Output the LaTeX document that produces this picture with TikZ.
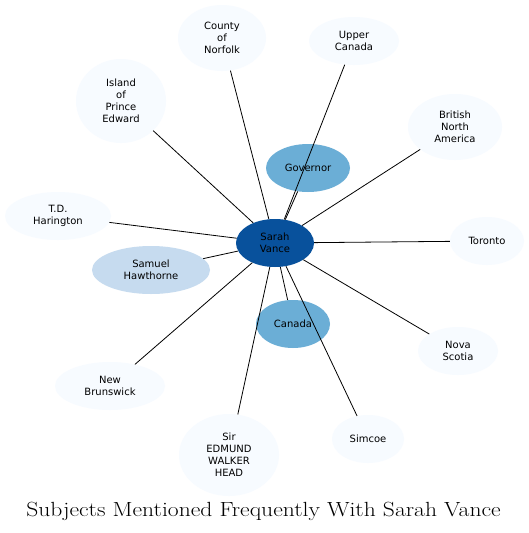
\documentclass[tikz,border=0pt]{standalone}
\usepackage{fontspec}
\newfontfamily\nodefont{DejaVu Sans}
\usetikzlibrary{shapes.geometric}
\definecolor{cdark}{HTML}{08519C}
\definecolor{cmid}{HTML}{6BAED6}
\definecolor{clight}{HTML}{C6DBEF}
\definecolor{cpale}{HTML}{F7FBFF}
\tikzset{
  ent/.style={ellipse, inner sep=0pt, align=center, font=\nodefont\fontsize{10}{12}\selectfont, draw=none},
  pale/.style={ent, fill=cpale},
  link/.style={draw=black, line width=0.8pt},
}
\begin{document}
\begin{tikzpicture}[x=1pt,y=-1pt]
\useasboundingbox[fill=white] (0,0) rectangle (528,533);
\node[ent, fill=cdark, minimum width=78pt, minimum height=48pt] (sv) at (275,243) {Sarah\\Vance};
\node[ent, fill=cmid, minimum width=84pt, minimum height=48pt] (gov) at (308,168) {Governor};
\node[ent, fill=cmid, minimum width=74pt, minimum height=48pt] (can) at (293,324) {Canada};
\node[ent, fill=clight, minimum width=118pt, minimum height=48pt] (sh) at (151,270) {Samuel\\Hawthorne};
\node[pale, minimum width=88pt, minimum height=66pt] (cn) at (222,38) {County\\of\\Norfolk};
\node[pale, minimum width=90pt, minimum height=48pt] (uc) at (354,41) {Upper\\Canada};
\node[pale, minimum width=90pt, minimum height=84pt] (ipe) at (121,101) {Island\\of\\Prince\\Edward};
\node[pale, minimum width=94pt, minimum height=66pt] (bna) at (455,127) {British\\North\\America};
\node[pale, minimum width=106pt, minimum height=48pt] (td) at (58,216) {T.D.\\Harington};
\node[pale, minimum width=74pt, minimum height=48pt] (tor) at (487,241) {Toronto};
\node[pale, minimum width=80pt, minimum height=48pt] (ns) at (458,351) {Nova\\Scotia};
\node[pale, minimum width=110pt, minimum height=48pt] (nb) at (110,386) {New\\Brunswick};
\node[pale, minimum width=100pt, minimum height=82pt] (seh) at (229,455) {Sir\\EDMUND\\WALKER\\HEAD};
\node[pale, minimum width=72pt, minimum height=48pt] (sim) at (368,439) {Simcoe};
\foreach \t in {gov,can,sh,cn,uc,ipe,bna,td,tor,ns,nb,seh,sim}
  \draw[link] (sv) -- (\t);
\node[font=\fontsize{20.5}{24}\selectfont] (title) at (263.5,511) {\scalebox{1.15}[1]{Subjects Mentioned Frequently With Sarah Vance}};
\end{tikzpicture}
\end{document}
